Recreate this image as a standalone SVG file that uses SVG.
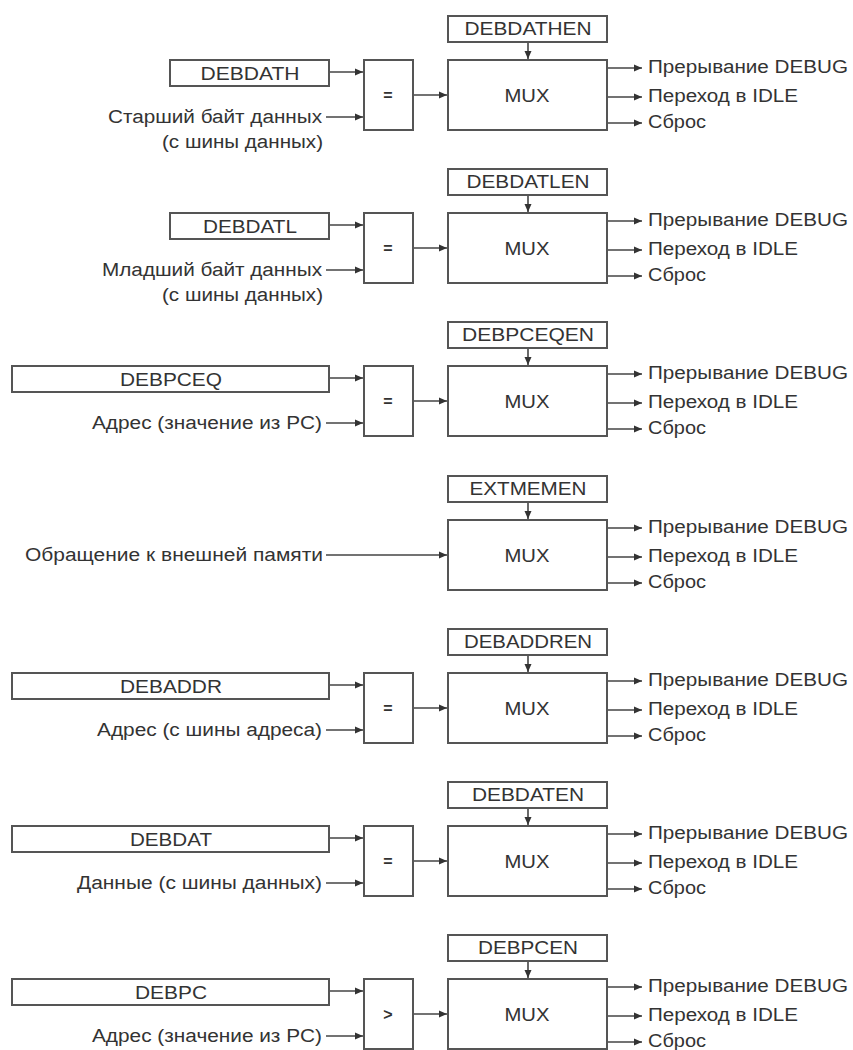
<svg xmlns="http://www.w3.org/2000/svg" width="853" height="1050" viewBox="0 0 853 1050">
<defs>
<marker id="ah" markerUnits="userSpaceOnUse" markerWidth="9" markerHeight="8" refX="8" refY="4" orient="auto"><path d="M0,0.5 L8,4 L0,7.5 z" fill="#333"/></marker>
<style>
.box{fill:#fff;stroke:#555;stroke-width:2}
.t{font-family:"Liberation Sans",Arial,sans-serif;font-size:18px;fill:#333}
.m{text-anchor:middle}
.e{text-anchor:end}
.op{font-weight:bold;font-size:16px}
.c{fill:none;stroke:#444;stroke-width:1.6;marker-end:url(#ah)}
</style>
</defs>
<rect width="853" height="1050" fill="#fff"/>

<g id="connectors">
<path class="c" d="M528 42V59"/><path class="c" d="M329 72H363"/><path class="c" d="M326 117H363"/><path class="c" d="M413 95H447"/>
<path class="c" d="M607 68H642"/><path class="c" d="M607 97H642"/><path class="c" d="M607 123H642"/>
<path class="c" d="M528 195V212"/><path class="c" d="M329 225H363"/><path class="c" d="M326 270H363"/><path class="c" d="M413 248H447"/>
<path class="c" d="M607 221H642"/><path class="c" d="M607 250H642"/><path class="c" d="M607 276H642"/>
<path class="c" d="M528 348V365"/><path class="c" d="M329 378H363"/><path class="c" d="M326 423H363"/><path class="c" d="M413 401H447"/>
<path class="c" d="M607 374H642"/><path class="c" d="M607 403H642"/><path class="c" d="M607 429H642"/>
<path class="c" d="M528 502V519"/><path class="c" d="M326 555H447"/>
<path class="c" d="M607 528H642"/><path class="c" d="M607 557H642"/><path class="c" d="M607 583H642"/>
<path class="c" d="M528 655V672"/><path class="c" d="M329 685H363"/><path class="c" d="M326 730H363"/><path class="c" d="M413 708H447"/>
<path class="c" d="M607 681H642"/><path class="c" d="M607 710H642"/><path class="c" d="M607 736H642"/>
<path class="c" d="M528 808V825"/><path class="c" d="M329 838H363"/><path class="c" d="M326 883H363"/><path class="c" d="M413 861H447"/>
<path class="c" d="M607 834H642"/><path class="c" d="M607 863H642"/><path class="c" d="M607 889H642"/>
<path class="c" d="M528 961V978"/><path class="c" d="M329 991H363"/><path class="c" d="M326 1036H363"/><path class="c" d="M413 1014H447"/>
<path class="c" d="M607 987H642"/><path class="c" d="M607 1016H642"/><path class="c" d="M607 1042H642"/>
</g>

<g id="en1"><rect class="box" x="448" y="16" width="159" height="26"/><text class="t m" x="528" y="35" textLength="127" lengthAdjust="spacingAndGlyphs">DEBDATHEN</text></g>
<g id="mux1"><rect class="box" x="448" y="60" width="159" height="70"/><text class="t m" x="527" y="102" textLength="45" lengthAdjust="spacingAndGlyphs">MUX</text></g>
<g id="reg1"><rect class="box" x="170" y="60" width="159" height="26"/><text class="t m" x="250" y="80" textLength="99" lengthAdjust="spacingAndGlyphs">DEBDATH</text></g>
<g id="cmp1"><rect class="box" x="364" y="60" width="49" height="70"/><text class="t m op" x="388" y="101">=</text></g>
<g id="in1"><text class="t e" x="322" y="123" textLength="214" lengthAdjust="spacingAndGlyphs">Старший байт данных</text><text class="t e" x="323" y="148" textLength="161" lengthAdjust="spacingAndGlyphs">(с шины данных)</text></g>
<g id="out1"><text class="t" x="648" y="73" textLength="200" lengthAdjust="spacingAndGlyphs">Прерывание DEBUG</text><text class="t" x="648" y="102" textLength="150" lengthAdjust="spacingAndGlyphs">Переход в IDLE</text><text class="t" x="648" y="128" textLength="58" lengthAdjust="spacingAndGlyphs">Сброс</text></g>

<g id="en2"><rect class="box" x="448" y="169" width="159" height="26"/><text class="t m" x="528" y="188" textLength="123" lengthAdjust="spacingAndGlyphs">DEBDATLEN</text></g>
<g id="mux2"><rect class="box" x="448" y="213" width="159" height="70"/><text class="t m" x="527" y="255" textLength="45" lengthAdjust="spacingAndGlyphs">MUX</text></g>
<g id="reg2"><rect class="box" x="170" y="213" width="159" height="26"/><text class="t m" x="250" y="233" textLength="94" lengthAdjust="spacingAndGlyphs">DEBDATL</text></g>
<g id="cmp2"><rect class="box" x="364" y="213" width="49" height="70"/><text class="t m op" x="388" y="254">=</text></g>
<g id="in2"><text class="t e" x="322" y="276" textLength="220" lengthAdjust="spacingAndGlyphs">Младший байт данных</text><text class="t e" x="323" y="301" textLength="161" lengthAdjust="spacingAndGlyphs">(с шины данных)</text></g>
<g id="out2"><text class="t" x="648" y="226" textLength="200" lengthAdjust="spacingAndGlyphs">Прерывание DEBUG</text><text class="t" x="648" y="255" textLength="150" lengthAdjust="spacingAndGlyphs">Переход в IDLE</text><text class="t" x="648" y="281" textLength="58" lengthAdjust="spacingAndGlyphs">Сброс</text></g>

<g id="en3"><rect class="box" x="448" y="322" width="159" height="26"/><text class="t m" x="528" y="341" textLength="132" lengthAdjust="spacingAndGlyphs">DEBPCEQEN</text></g>
<g id="mux3"><rect class="box" x="448" y="366" width="159" height="70"/><text class="t m" x="527" y="408" textLength="45" lengthAdjust="spacingAndGlyphs">MUX</text></g>
<g id="reg3"><rect class="box" x="12" y="366" width="317" height="26"/><text class="t m" x="171" y="386" textLength="102" lengthAdjust="spacingAndGlyphs">DEBPCEQ</text></g>
<g id="cmp3"><rect class="box" x="364" y="366" width="49" height="70"/><text class="t m op" x="388" y="407">=</text></g>
<g id="in3"><text class="t e" x="322" y="429" textLength="230" lengthAdjust="spacingAndGlyphs">Адрес (значение из PC)</text></g>
<g id="out3"><text class="t" x="648" y="379" textLength="200" lengthAdjust="spacingAndGlyphs">Прерывание DEBUG</text><text class="t" x="648" y="408" textLength="150" lengthAdjust="spacingAndGlyphs">Переход в IDLE</text><text class="t" x="648" y="434" textLength="58" lengthAdjust="spacingAndGlyphs">Сброс</text></g>

<g id="en4"><rect class="box" x="448" y="476" width="159" height="26"/><text class="t m" x="528" y="495" textLength="117" lengthAdjust="spacingAndGlyphs">EXTMEMEN</text></g>
<g id="mux4"><rect class="box" x="448" y="520" width="159" height="70"/><text class="t m" x="527" y="562" textLength="45" lengthAdjust="spacingAndGlyphs">MUX</text></g>
<g id="in4"><text class="t e" x="323" y="561" textLength="298" lengthAdjust="spacingAndGlyphs">Обращение к внешней памяти</text></g>
<g id="out4"><text class="t" x="648" y="533" textLength="200" lengthAdjust="spacingAndGlyphs">Прерывание DEBUG</text><text class="t" x="648" y="562" textLength="150" lengthAdjust="spacingAndGlyphs">Переход в IDLE</text><text class="t" x="648" y="588" textLength="58" lengthAdjust="spacingAndGlyphs">Сброс</text></g>

<g id="en5"><rect class="box" x="448" y="629" width="159" height="26"/><text class="t m" x="528" y="648" textLength="128" lengthAdjust="spacingAndGlyphs">DEBADDREN</text></g>
<g id="mux5"><rect class="box" x="448" y="673" width="159" height="70"/><text class="t m" x="527" y="715" textLength="45" lengthAdjust="spacingAndGlyphs">MUX</text></g>
<g id="reg5"><rect class="box" x="12" y="673" width="317" height="26"/><text class="t m" x="171" y="693" textLength="102" lengthAdjust="spacingAndGlyphs">DEBADDR</text></g>
<g id="cmp5"><rect class="box" x="364" y="673" width="49" height="70"/><text class="t m op" x="388" y="714">=</text></g>
<g id="in5"><text class="t e" x="322" y="736" textLength="225" lengthAdjust="spacingAndGlyphs">Адрес (с шины адреса)</text></g>
<g id="out5"><text class="t" x="648" y="686" textLength="200" lengthAdjust="spacingAndGlyphs">Прерывание DEBUG</text><text class="t" x="648" y="715" textLength="150" lengthAdjust="spacingAndGlyphs">Переход в IDLE</text><text class="t" x="648" y="741" textLength="58" lengthAdjust="spacingAndGlyphs">Сброс</text></g>

<g id="en6"><rect class="box" x="448" y="782" width="159" height="26"/><text class="t m" x="528" y="801" textLength="112" lengthAdjust="spacingAndGlyphs">DEBDATEN</text></g>
<g id="mux6"><rect class="box" x="448" y="826" width="159" height="70"/><text class="t m" x="527" y="868" textLength="45" lengthAdjust="spacingAndGlyphs">MUX</text></g>
<g id="reg6"><rect class="box" x="12" y="826" width="317" height="26"/><text class="t m" x="171" y="846" textLength="82" lengthAdjust="spacingAndGlyphs">DEBDAT</text></g>
<g id="cmp6"><rect class="box" x="364" y="826" width="49" height="70"/><text class="t m op" x="388" y="867">=</text></g>
<g id="in6"><text class="t e" x="322" y="889" textLength="245" lengthAdjust="spacingAndGlyphs">Данные (с шины данных)</text></g>
<g id="out6"><text class="t" x="648" y="839" textLength="200" lengthAdjust="spacingAndGlyphs">Прерывание DEBUG</text><text class="t" x="648" y="868" textLength="150" lengthAdjust="spacingAndGlyphs">Переход в IDLE</text><text class="t" x="648" y="894" textLength="58" lengthAdjust="spacingAndGlyphs">Сброс</text></g>

<g id="en7"><rect class="box" x="448" y="935" width="159" height="26"/><text class="t m" x="528" y="954" textLength="100" lengthAdjust="spacingAndGlyphs">DEBPCEN</text></g>
<g id="mux7"><rect class="box" x="448" y="979" width="159" height="70"/><text class="t m" x="527" y="1021" textLength="45" lengthAdjust="spacingAndGlyphs">MUX</text></g>
<g id="reg7"><rect class="box" x="12" y="979" width="317" height="26"/><text class="t m" x="171" y="999" textLength="72" lengthAdjust="spacingAndGlyphs">DEBPC</text></g>
<g id="cmp7"><rect class="box" x="364" y="979" width="49" height="70"/><text class="t m op" x="388" y="1020">&gt;</text></g>
<g id="in7"><text class="t e" x="322" y="1042" textLength="230" lengthAdjust="spacingAndGlyphs">Адрес (значение из PC)</text></g>
<g id="out7"><text class="t" x="648" y="992" textLength="200" lengthAdjust="spacingAndGlyphs">Прерывание DEBUG</text><text class="t" x="648" y="1021" textLength="150" lengthAdjust="spacingAndGlyphs">Переход в IDLE</text><text class="t" x="648" y="1047" textLength="58" lengthAdjust="spacingAndGlyphs">Сброс</text></g>
</svg>
